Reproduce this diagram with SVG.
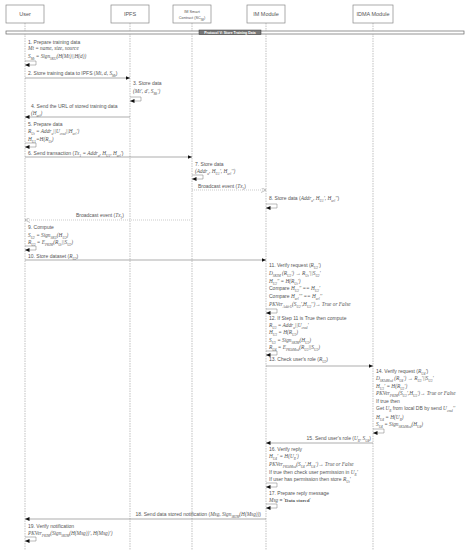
<svg xmlns="http://www.w3.org/2000/svg" width="471" height="550" viewBox="0 0 471 550">
<style>
.t{font-family:"Liberation Sans",Arial,sans-serif;font-size:5px;fill:#555}
.m{font-family:"Liberation Serif","Times New Roman",serif;font-style:italic;font-size:5.3px}
.s{font-size:3.4px;baseline-shift:sub}
.hd{font-family:"Liberation Sans",Arial,sans-serif;font-size:5.5px;fill:#555;text-anchor:middle}
.box{fill:#fff;stroke:#888;stroke-width:0.7}
.ll{stroke:#999;stroke-width:0.6;stroke-dasharray:1.5,1;fill:none}
.msg{stroke:#777;stroke-width:0.6;fill:none;marker-end:url(#fa)}
.bc{stroke:#aaa;stroke-width:0.6;stroke-dasharray:1,1;fill:none;marker-end:url(#oa)}
.loop{stroke:#777;stroke-width:0.5;fill:none;marker-end:url(#fa)}
</style>
<defs>
<marker id="fa" markerUnits="userSpaceOnUse" markerWidth="5" markerHeight="4" refX="4.5" refY="2" orient="auto"><path d="M0,0 L4.5,2 L0,4 z" fill="#111"/></marker>
<marker id="oa" markerUnits="userSpaceOnUse" markerWidth="6" markerHeight="5" refX="5" refY="2.5" orient="auto"><path d="M0,0 L5,2.5 L0,5" fill="none" stroke="#999" stroke-width="0.6"/></marker>
</defs>
<rect width="471" height="550" fill="#fff"/>

<g id="user">
<line class="ll" x1="25" y1="23" x2="25" y2="550"/>
<rect class="box" x="6" y="5" width="38" height="18"/>
<text class="hd" x="25" y="16">User</text>
</g>
<g id="ipfs">
<line class="ll" x1="130" y1="23" x2="130" y2="550"/>
<rect class="box" x="111" y="5" width="38" height="18"/>
<text class="hd" x="130" y="16">IPFS</text>
</g>
<g id="sc">
<line class="ll" x1="192" y1="23" x2="192" y2="550"/>
<rect class="box" x="173" y="5" width="38" height="18"/>
<text class="hd" x="192" y="12.5" style="font-size:3.8px">IM Smart</text>
<text class="hd" x="192" y="18.5" style="font-size:3.8px">Contract (SC<tspan class="s" style="font-size:2.8px">IM</tspan>)</text>
</g>
<g id="im">
<line class="ll" x1="266" y1="23" x2="266" y2="550"/>
<rect class="box" x="247" y="5" width="38" height="18"/>
<text class="hd" x="266" y="16">IM Module</text>
</g>
<g id="idma">
<line class="ll" x1="373" y1="23" x2="373" y2="550"/>
<rect class="box" x="353" y="5" width="40" height="18"/>
<text class="hd" x="373" y="16">IDMA Module</text>
</g>

<g id="frame">
<rect x="6" y="31" width="458" height="3" fill="#fff" stroke="#666" stroke-width="0.7"/>
<rect x="199" y="30" width="62" height="4.5" fill="#777" stroke="#333" stroke-width="0.5"/>
<text x="230" y="33.6" style="font-family:'Liberation Sans',Arial,sans-serif;font-size:3.5px;font-weight:bold;fill:#fff;text-anchor:middle">Protocol V: Store Training Data</text>
</g>

<g id="connectors">
<path class="loop" d="M25,61 h11 v4 h-11"/>
<line class="msg" x1="25" y1="78" x2="130" y2="78"/>
<path class="loop" d="M130,97 h11 v4 h-11"/>
<line class="msg" x1="130" y1="117" x2="25" y2="117"/>
<path class="loop" d="M25,143 h11 v4 h-11"/>
<line class="msg" x1="25" y1="157" x2="192" y2="157"/>
<path class="loop" d="M192,175 h11 v4 h-11"/>
<line class="bc" x1="192" y1="190" x2="266" y2="190"/>
<path class="loop" d="M266,204 h11 v4 h-11"/>
<line class="bc" x1="192" y1="220" x2="25" y2="220"/>
<path class="loop" d="M25,246 h11 v4 h-11"/>
<line class="msg" x1="25" y1="260" x2="266" y2="260"/>
<path class="loop" d="M266,309 h11 v4 h-11"/>
<path class="loop" d="M266,351 h11 v4 h-11"/>
<line class="msg" x1="266" y1="366" x2="373" y2="366"/>
<path class="loop" d="M373,429 h11 v4 h-11"/>
<line class="msg" x1="373" y1="443" x2="266" y2="443"/>
<path class="loop" d="M266,483 h11 v4 h-11"/>
<path class="loop" d="M266,504 h11 v4 h-11"/>
<line class="msg" x1="266" y1="519" x2="25" y2="519"/>
<path class="loop" d="M25,537 h11 v4 h-11"/>
</g>

<g id="labels">
<text class="t" x="28" y="44">1. Prepare training data</text>
<text class="t m" x="28" y="50">Mt = name, size, source</text>
<text class="t m" x="28" y="58">S<tspan class="s">Mt</tspan> = Sign<tspan class="s">SKU</tspan>(H(Mt)||H(d))</text>
<text class="t" x="28" y="75">2. Store training data to IPFS (<tspan class="m">Mt, d, S</tspan><tspan class="m s">Mt</tspan>)</text>
<text class="t" x="133" y="85">3. Store data</text>
<text class="t m" x="133" y="93">(Mt', d', S<tspan class="s">Mt</tspan>')</text>
<text class="t" x="31" y="108">4. Send the URL of stored training data</text>
<text class="t m" x="31" y="115">(H<tspan class="s">url</tspan>)</text>
<text class="t" x="28" y="126">5. Prepare data</text>
<text class="t m" x="28" y="133">R<tspan class="s">Ut</tspan> = Addr<tspan class="s">u</tspan>||U<tspan class="s">cred</tspan>||H<tspan class="s">url</tspan>')</text>
<text class="t m" x="28" y="141">H<tspan class="s">U1</tspan>=H(R<tspan class="s">Ut</tspan>)</text>
<text class="t" x="28" y="155">6. Send transaction (<tspan class="m">Tx</tspan><tspan class="m s">1</tspan><tspan class="m"> = Addr</tspan><tspan class="m s">u</tspan><tspan class="m">, H</tspan><tspan class="m s">U1</tspan><tspan class="m">, H</tspan><tspan class="m s">url</tspan><tspan class="m">'</tspan>)</text>
<text class="t" x="195" y="166">7. Store data</text>
<text class="t m" x="195" y="173">(Addr<tspan class="s">u</tspan>, H<tspan class="s">U1</tspan>', H<tspan class="s">url</tspan>'')</text>
<text class="t" x="198" y="188">Broadcast event (<tspan class="m">Tx</tspan><tspan class="m s">1</tspan>)</text>
<text class="t" x="269" y="200">8. Store data (<tspan class="m">Addr</tspan><tspan class="m s">u</tspan><tspan class="m">, H</tspan><tspan class="m s">U1</tspan><tspan class="m">', H</tspan><tspan class="m s">url</tspan><tspan class="m">''</tspan>)</text>
<text class="t" x="76" y="217">Broadcast event (<tspan class="m">Tx</tspan><tspan class="m s">1</tspan>)</text>
<text class="t" x="28" y="229">9. Compute</text>
<text class="t m" x="28" y="237">S<tspan class="s">U2</tspan> = Sign<tspan class="s">SKU</tspan>(H<tspan class="s">U2</tspan>)</text>
<text class="t m" x="28" y="244">R<tspan class="s">U2</tspan> = E<tspan class="s">PKIM</tspan>(R<tspan class="s">Ut</tspan>||S<tspan class="s">U2</tspan>)</text>
<text class="t" x="28" y="258">10. Store dataset (<tspan class="m">R</tspan><tspan class="m s">U2</tspan>)</text>

<text class="t" x="269" y="267">11. Verify request (<tspan class="m">R</tspan><tspan class="m s">U2</tspan><tspan class="m">'</tspan>)</text>
<text class="t m" x="269" y="275">D<tspan class="s">SKIM</tspan> (R<tspan class="s">U2</tspan>') → R<tspan class="s">Ut</tspan>'||S<tspan class="s">U2</tspan>'</text>
<text class="t m" x="269" y="283">H<tspan class="s">U2</tspan>'' = H(R<tspan class="s">Ut</tspan>')</text>
<text class="t" x="269" y="290">Compare <tspan class="m">H</tspan><tspan class="m s">U2</tspan><tspan class="m">'' == H</tspan><tspan class="m s">U2</tspan><tspan class="m">'</tspan></text>
<text class="t" x="269" y="298">Compare <tspan class="m">H</tspan><tspan class="m s">url</tspan><tspan class="m">''' == H</tspan><tspan class="m s">url</tspan><tspan class="m">''</tspan></text>
<text class="t m" x="269" y="306">PKVer<tspan class="s">AddrU</tspan>(S<tspan class="s">U2</tspan>',H<tspan class="s">U2</tspan>'')→ True or False</text>
<text class="t" x="269" y="320">12. If Step 11 is True then compute</text>
<text class="t m" x="269" y="327">R<tspan class="s">U3</tspan> = Addr<tspan class="s">u</tspan>||U<tspan class="s">cred</tspan>'</text>
<text class="t m" x="269" y="334">H<tspan class="s">U3</tspan> = H(R<tspan class="s">U3</tspan>)</text>
<text class="t m" x="269" y="342">S<tspan class="s">U3</tspan> = Sign<tspan class="s">SKIM</tspan>(H<tspan class="s">U3</tspan>)</text>
<text class="t m" x="269" y="349">R<tspan class="s">U4</tspan> = E<tspan class="s">PKIdMod</tspan>(R<tspan class="s">U3</tspan>||S<tspan class="s">U3</tspan>)</text>
<text class="t" x="269" y="361">13. Check user's role (<tspan class="m">R</tspan><tspan class="m s">U3</tspan>)</text>

<text class="t" x="376" y="373">14. Verify request (<tspan class="m">R</tspan><tspan class="m s">U4</tspan><tspan class="m">'</tspan>)</text>
<text class="t m" x="376" y="380">D<tspan class="s">SKIdMod</tspan> (R<tspan class="s">U4</tspan>') → R<tspan class="s">U3</tspan>'||S<tspan class="s">U3</tspan>'</text>
<text class="t m" x="376" y="388">H<tspan class="s">U3</tspan>' = H(R<tspan class="s">U3</tspan>')</text>
<text class="t m" x="376" y="395">PKVer<tspan class="s">PKIM</tspan>(S<tspan class="s">U3</tspan>',H<tspan class="s">U3</tspan>')→ True or False</text>
<text class="t" x="376" y="403">If true then</text>
<text class="t" x="376" y="410">Get <tspan class="m">U</tspan><tspan class="m s">R</tspan> from local DB by send <tspan class="m">U</tspan><tspan class="m s">cred</tspan><tspan class="m">''</tspan></text>
<text class="t m" x="376" y="419">H<tspan class="s">U4</tspan> = H(U<tspan class="s">R</tspan>)</text>
<text class="t m" x="376" y="426">S<tspan class="s">U4</tspan> = Sign<tspan class="s">SKIdMod</tspan>(H<tspan class="s">U4</tspan>)</text>
<text class="t" x="371" y="440" text-anchor="end">15. Send user's role (<tspan class="m">U</tspan><tspan class="m s">R</tspan><tspan class="m">, S</tspan><tspan class="m s">U4</tspan>)</text>

<text class="t" x="269" y="451">16. Verify reply</text>
<text class="t m" x="269" y="458">H<tspan class="s">U4</tspan>' = H(U<tspan class="s">R</tspan>')</text>
<text class="t m" x="269" y="466">PKVer<tspan class="s">PKIdMod</tspan>(S<tspan class="s">U4</tspan>',H<tspan class="s">U4</tspan>')→ True or False</text>
<text class="t" x="269" y="474">If true then check user permission in <tspan class="m">U</tspan><tspan class="m s">R</tspan><tspan class="m">'</tspan></text>
<text class="t" x="269" y="481">If user has permission then store <tspan class="m">R</tspan><tspan class="m s">Ut</tspan><tspan class="m">'</tspan></text>
<text class="t" x="269" y="495">17. Prepare reply message</text>
<text class="t" x="269" y="502"><tspan class="m">Msg</tspan> = '<tspan style="font-family:'Liberation Serif',serif;font-weight:bold">Data stored</tspan>'</text>
<text class="t" x="261" y="516" text-anchor="end">18. Send data stored notification (<tspan class="m">Msg, Sign</tspan><tspan class="m s">SKIM</tspan><tspan class="m">(H(Msg))</tspan>)</text>
<text class="t" x="28" y="528">19. Verify notification</text>
<text class="t m" x="28" y="535">PKVer<tspan class="s">PKIM</tspan>(Sign<tspan class="s">SKIM</tspan>(H(Msg))', H(Msg)')</text>
</g>
</svg>
